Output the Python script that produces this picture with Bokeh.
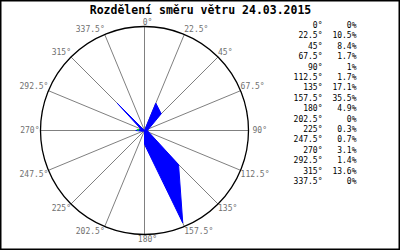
import math
from bokeh.plotting import figure
from bokeh.models import Range1d, ColumnDataSource
from bokeh.core.properties import value
from bokeh.embed import file_html
from bokeh.resources import INLINE

title = "Rozdělení směru větru 24.03.2015"
directions = [0, 22.5, 45, 67.5, 90, 112.5, 135, 157.5, 180, 202.5, 225, 247.5, 270, 292.5, 315, 337.5]
percents = [0, 10.5, 8.4, 1.7, 1, 1.7, 17.1, 35.5, 4.9, 0, 0.3, 0.7, 3.1, 1.4, 13.6, 0]

CX, CY = 144, 130          # centre in pixels from top-left
W, H = 400, 250
R_CIRCLE = 104
R_MAX = 100
FONT = "DejaVu Sans Mono"

p = figure(width=W, height=H, output_backend="svg", toolbar_location=None,
           x_range=Range1d(-CX, W - CX), y_range=Range1d(-(H - CY), CY),
           min_border=0, min_border_left=0, min_border_right=0,
           min_border_top=0, min_border_bottom=0)
p.axis.visible = False
p.grid.visible = False
p.outline_line_color = "black"
p.outline_line_width = 2
p.background_fill_color = "white"
p.border_fill_color = "white"

# spokes
sx = [R_CIRCLE * math.sin(math.radians(d)) for d in directions]
sy = [R_CIRCLE * math.cos(math.radians(d)) for d in directions]
p.segment(x0=[0] * len(directions), y0=[0] * len(directions), x1=sx, y1=sy,
          line_color="#808080", line_width=1)

# outer circle
p.circle(x=[0], y=[0], radius=R_CIRCLE, fill_color=None, line_color="black", line_width=1.3)

# wind polygon
mx = max(percents)
px = [v / mx * R_MAX * math.sin(math.radians(d)) for d, v in zip(directions, percents)]
py = [v / mx * R_MAX * math.cos(math.radians(d)) for d, v in zip(directions, percents)]
p.patch(px, py, fill_color="#0000ff", line_color="#0000ff", line_width=1)

# small green marker near centre
p.rect(x=[-6.5], y=[0.7], width=2, height=1.5, fill_color="#00ff00", line_color=None)

# direction labels around circle
def fmt_deg(d):
    return f"{d:g}°"

lx, ly, la, lb, lt = [], [], [], [], []
for d in directions:
    s, c = math.sin(math.radians(d)), math.cos(math.radians(d))
    x, y = R_CIRCLE * s, R_CIRCLE * c
    if s > 0.01:
        a = "left"
    elif s < -0.01:
        a = "right"
    else:
        a = "center"
    if c > 0.01:
        b = "bottom"
    elif c < -0.01:
        b = "top"
    else:
        b = "middle"
    if a == "left" and b == "middle":
        x += 4
    if a == "right" and b == "middle":
        x -= 1
    if a == "center":
        x += 3
    lx.append(x); ly.append(y); la.append(a); lb.append(b); lt.append(fmt_deg(d))
lsrc = ColumnDataSource(dict(x=lx, y=ly, t=lt, a=la, b=lb))
p.text(x="x", y="y", text="t", text_align="a", text_baseline="b", source=lsrc,
       text_font=value(FONT), text_font_size="8px", text_color="#707070")

# title
p.text(x=[200 - CX], y=[CY - 9], text=[title], text_align="center", text_baseline="middle",
       text_font=value(FONT), text_font_size="11.5px", text_font_style="bold", text_color="black")

# legend table on right
rows_y = [CY - (25 + 10.4 * i) for i in range(len(directions))]
p.text(x=[322 - CX] * len(directions), y=rows_y, text=[fmt_deg(d) for d in directions],
       text_align="right", text_baseline="middle",
       text_font=value(FONT), text_font_size="8px", text_color="black")
p.text(x=[356 - CX] * len(directions), y=rows_y, text=[f"{v:g}%" for v in percents],
       text_align="right", text_baseline="middle",
       text_font=value(FONT), text_font_size="8px", text_color="black")

open("out.html", "w").write(file_html(p, INLINE))
